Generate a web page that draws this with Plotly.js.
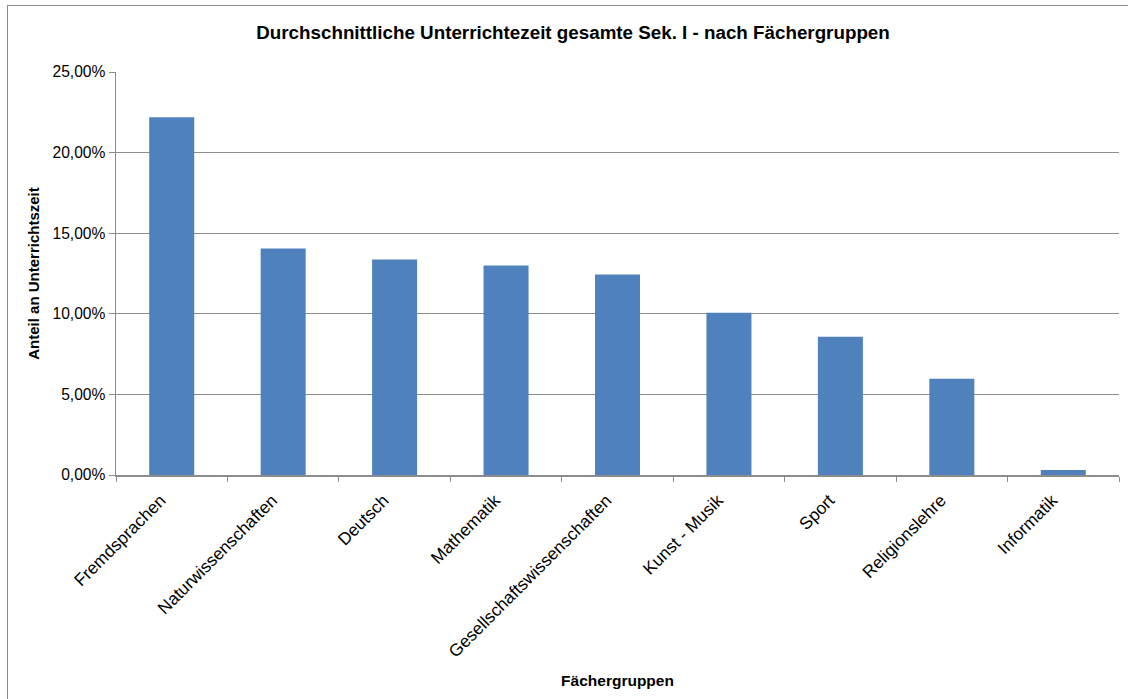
<!DOCTYPE html>
<html>
<head>
<meta charset="utf-8">
<script src="https://cdn.plot.ly/plotly-3.0.1.min.js"></script>
<style>
html,body{margin:0;padding:0;background:#fff;overflow:hidden;}
#wrap{position:relative;width:1128px;height:699px;}
#chart{position:absolute;left:0;top:0;width:1128px;height:699px;}
#frame{position:absolute;left:7px;top:5px;width:1140px;height:720px;border:1.5px solid #8c8c8c;box-sizing:border-box;pointer-events:none;}
</style>
</head>
<body>
<div id="wrap"><div id="chart"></div><div id="frame"></div></div>
<script>
const categories = ["Fremdsprachen","Naturwissenschaften","Deutsch","Mathematik","Gesellschaftswissenschaften","Kunst - Musik","Sport","Religionslehre","Informatik"];
const shares = [0.2220,0.1405,0.1337,0.1300,0.1244,0.1007,0.0858,0.0597,0.0031];
const yTicks = [0,0.05,0.10,0.15,0.20,0.25];

const FONT = 'Liberation Sans, Arial, sans-serif';

const trace = {
  type: 'bar',
  x: categories,
  y: shares,
  marker: {color: '#4f81bd', line: {width: 0}},
  hoverinfo: 'x+y'
};

const layout = {
  width: 1128, height: 699,
  paper_bgcolor: 'rgba(0,0,0,0)',
  plot_bgcolor: '#fff',
  margin: {l: 116, r: 9, t: 72, b: 224, pad: 0},
  separators: ',.',
  bargap: 0.596,
  showlegend: false,
  font: {family: FONT, color: '#000'},
  title: {
    text: '<b>Durchschnittliche Unterrichtezeit gesamte Sek. I - nach Fächergruppen</b>',
    font: {size: 18.8, family: FONT, color: '#000'},
    x: 0.508, xanchor: 'center', y: 0.953, yanchor: 'middle'
  },
  xaxis: {
    type: 'category',
    tickangle: -45,
    ticks: 'outside', ticklen: 5, tickcolor: '#8c8c8c', tickwidth: 1,
    tickson: 'boundaries',
    ticklabelshift: -11,
    ticklabelstandoff: 7,
    showline: true, linecolor: '#8c8c8c', linewidth: 1.5,
    showgrid: false,
    tickfont: {size: 17.3, family: FONT, color: '#000'},
    title: {text: '<b>Fächergruppen</b>', font: {size: 15.5, family: FONT, color: '#000'}, standoff: 14},
    automargin: false
  },
  yaxis: {
    range: [0, 0.25],
    tickvals: yTicks,
    tickformat: '.2%',
    ticks: 'outside', ticklen: 6, tickcolor: '#8c8c8c', tickwidth: 1,
    showline: true, linecolor: '#8c8c8c', linewidth: 1.5,
    showgrid: true, gridcolor: '#8c8c8c', gridwidth: 1,
    zeroline: false,
    tickfont: {size: 15.6, family: FONT, color: '#000'},
    title: {text: '<b>Anteil an Unterrichtszeit</b>', font: {size: 15, family: FONT, color: '#000'}, standoff: 9},
    automargin: false
  }
};

Plotly.newPlot('chart', [trace], layout, {displayModeBar: false, staticPlot: true});
</script>
</body>
</html>
